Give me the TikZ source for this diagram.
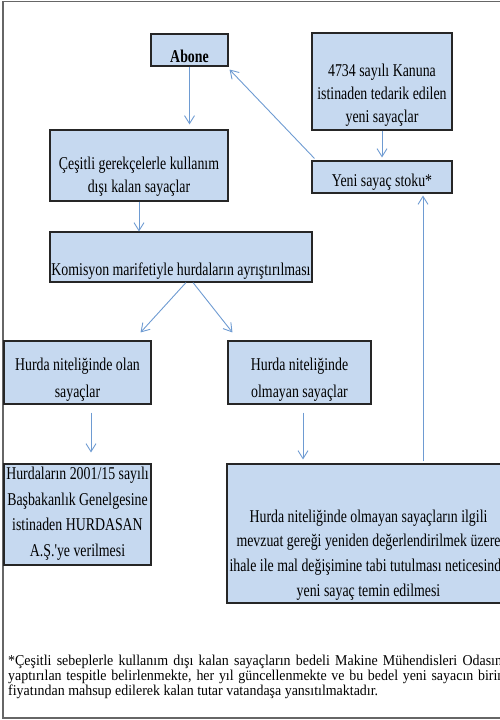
\documentclass[tikz,border=0pt]{standalone}
\usepackage{fontspec}
\setmainfont{Liberation Serif}
\newfontfamily\boxfont{Liberation Serif}[FakeStretch=0.77]
\newfontfamily\notefont{Liberation Serif}[FakeStretch=0.93]
\usetikzlibrary{arrows.meta,positioning,calc}
\definecolor{boxBlue} {RGB}{198,217,240}
\definecolor{flowBlue}{RGB}{110,155,210}
\tikzset{
  box/.style={draw=black!85,fill=boxBlue,line width=1.1pt,inner sep=0pt},
  boxtext/.style={font=\boxfont\fontsize{18}{24}\selectfont,align=center,inner sep=0pt},
  flow/.style={flowBlue,line width=0.9pt,-{Straight Barb[length=8pt,width=10pt]}},
  notetext/.style={font=\notefont\fontsize{15}{15}\selectfont,text width=500pt,align=justify,inner sep=0pt}
}

\begin{document}
\begin{tikzpicture}[x=1pt,y=-1pt]
\useasboundingbox (0,0) rectangle (500,720);
\draw[black!60,line width=1.5pt] (3,1.5) rectangle (530,718);

% ust kisim
\node[box,minimum width=77pt,minimum height=32pt,
  label={[boxtext,yshift=-6pt]center:\textbf{Abone}}] (abone) at (189.5,50) {};
\node[box,minimum width=140pt,minimum height=97pt,
  label={[boxtext,font=\boxfont\fontsize{18}{23}\selectfont,yshift=-13.5pt]center:{4734 sayılı Kanuna\\istinaden tedarik edilen\\yeni sayaçlar}}] (kanun) at (382,81.5) {};
\node[box,minimum width=178pt,minimum height=71pt,
  label={[boxtext,font=\boxfont\fontsize{18}{23}\selectfont,yshift=-11pt]center:{Çeşitli gerekçelerle kullanım\\dışı kalan sayaçlar}}] (cesitli) at (139,165.5) {};
\node[box,minimum width=140pt,minimum height=32pt,
  label={[boxtext,yshift=-5pt]center:Yeni sayaç stoku*}] (stok) at (382,177) {};
\node[box,minimum width=262pt,minimum height=50pt,
  label={[boxtext,yshift=-14pt]center:Komisyon marifetiyle hurdaların ayrıştırılması}] (komisyon) at (181,257) {};

% hurda ayrimi
\node[box,minimum width=147pt,minimum height=63pt,
  label={[boxtext,font=\boxfont\fontsize{18}{27}\selectfont,yshift=-7pt]center:{Hurda niteliğinde olan\\sayaçlar}}] (olan) at (77.5,372.5) {};
\node[box,minimum width=143pt,minimum height=63pt,
  label={[boxtext,font=\boxfont\fontsize{18}{27}\selectfont,yshift=-7pt]center:{Hurda niteliğinde\\olmayan sayaçlar}}] (olmayan) at (299.5,372.5) {};
\node[box,minimum width=147pt,minimum height=101pt,
  label={[boxtext,font=\boxfont\fontsize{18}{25.5}\selectfont,yshift=1pt]center:{Hurdaların 2001/15 sayılı\\Başbakanlık Genelgesine\\istinaden HURDASAN\\A.Ş.'ye verilmesi}}] (hurdasan) at (77.5,514.5) {};
\node[box,minimum width=283pt,minimum height=139pt,
  label={[boxtext,font=\boxfont\fontsize{18}{24.7}\selectfont,yshift=-21.5pt]center:{Hurda niteliğinde olmayan sayaçların ilgili\\mevzuat gereği yeniden değerlendirilmek üzere\\ihale ile mal değişimine tabi tutulması neticesinde\\yeni sayaç temin edilmesi}}] (temin) at (368.5,533.5) {};

% oklar
\draw[flow] (abone.south) -- ($(abone.south |- cesitli.north)+(0,-5)$);
\draw[flow] (kanun.south) -- ($(stok.north)+(0,-3)$);
\draw[flow] ($(stok.north west)+(3,-2)$) -- ($(abone.south east)+(1,3)$);
\draw[flow] (cesitli.south) -- (cesitli.south |- komisyon.north);
\draw[flow] ($(komisyon.south)+(5,0)$) -- ($(olan.north east)+(-11,-8)$);
\draw[flow] ($(komisyon.south)+(12,0)$) -- ($(olmayan.north west)+(5,-8)$);
\draw[flow] ($(olan.south)+(13.5,8)$) -- ($(olan.south |- hurdasan.north)+(13.5,-11)$);
\draw[flow] ($(olmayan.south)+(3.5,8)$) -- ($(olmayan.south |- temin.north)+(3.5,-4)$);
\draw[flow] ($(temin.north)+(54.5,-2)$) -- ($(stok.south)+(41,2)$);

% dipnot
\node[notetext,anchor=north west] (dipnot) at (8,655)
  {\hyphenpenalty=10000 *Çeşitli sebeplerle kullanım dışı kalan sayaçların bedeli Makine Mühendisleri Odasına\linebreak
   yaptırılan tespitle belirlenmekte, her yıl güncellenmekte ve bu bedel yeni sayacın birim\linebreak
   fiyatından mahsup edilerek kalan tutar vatandaşa yansıtılmaktadır.};
\end{tikzpicture}
\end{document}
